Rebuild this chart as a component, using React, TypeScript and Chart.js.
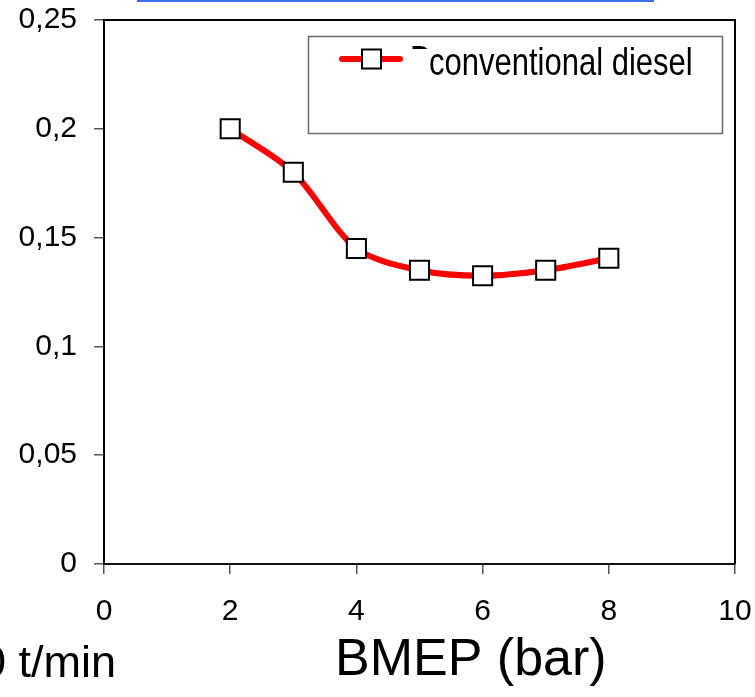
import React, { useEffect, useRef } from "react";
import { Chart, registerables } from "chart.js";

Chart.register(...registerables);

// ---- data ----
const bmep = [2, 3, 4, 5, 6, 7, 8];
const values = [0.2, 0.18, 0.145, 0.135, 0.1325, 0.135, 0.1405];
const seriesLabel = "conventional diesel";
const hiddenLabel = "Diesel";
const xTitle = "BMEP (bar)";
const speedLabel = "1500 t/min";
const yMin = 0;
const yMax = 0.25;
const yStep = 0.05;
const xMin = 0;
const xMax = 10;
const xStep = 2;

const FONT = '"Liberation Sans", Arial, Helvetica, sans-serif';

const decorPlugin = {
  id: "decor",
  afterDraw(chart: any) {
    const ctx = chart.ctx as CanvasRenderingContext2D;
    const { left, right, top, bottom } = chart.chartArea;
    ctx.save();
    // top & right frame
    ctx.strokeStyle = "#000";
    ctx.lineWidth = 2;
    ctx.beginPath();
    ctx.moveTo(left, top);
    ctx.lineTo(right, top);
    ctx.lineTo(right, bottom);
    ctx.stroke();

    // blue line at the very top
    ctx.fillStyle = "#3f6ef0";
    ctx.fillRect(137, 0, 517, 2);

    // legend box
    ctx.strokeStyle = "#6a6a6a";
    ctx.lineWidth = 1.5;
    ctx.strokeRect(308.5, 36.5, 414, 97);
    // legend line
    ctx.strokeStyle = "#ff0000";
    ctx.lineWidth = 6;
    ctx.lineCap = "round";
    ctx.beginPath();
    ctx.moveTo(342, 59);
    ctx.lineTo(400, 59);
    ctx.stroke();
    // legend marker
    ctx.fillStyle = "#fff";
    ctx.fillRect(362, 49.5, 19, 19);
    ctx.strokeStyle = "#000";
    ctx.lineWidth = 2;
    ctx.strokeRect(362, 49.5, 19, 19);

    // hidden underlying legend text fragment
    ctx.save();
    ctx.beginPath();
    ctx.rect(405, 43, 22, 6);
    ctx.clip();
    ctx.fillStyle = "#000";
    ctx.font = `31px ${FONT}`;
    ctx.textBaseline = "alphabetic";
    ctx.textAlign = "left";
    ctx.translate(410, 73);
    ctx.scale(1, 1.25);
    ctx.fillText(hiddenLabel, 0, 0);
    ctx.restore();

    // legend label (vertically stretched as in the source)
    ctx.save();
    ctx.fillStyle = "#000";
    ctx.font = `31px ${FONT}`;
    ctx.textBaseline = "alphabetic";
    ctx.textAlign = "left";
    ctx.translate(429, 75);
    ctx.scale(1, 1.25);
    ctx.fillText(seriesLabel, 0, 0);
    ctx.restore();

    // x title
    ctx.fillStyle = "#000";
    ctx.textBaseline = "alphabetic";
    ctx.font = `52px ${FONT}`;
    ctx.textAlign = "left";
    ctx.fillText(xTitle, 335, 675);

    // speed label (cut at the left edge)
    ctx.font = `45px ${FONT}`;
    ctx.textAlign = "right";
    ctx.fillText(speedLabel, 116, 677);
    ctx.restore();
  },
};

export default function App() {
  const ref = useRef<HTMLCanvasElement | null>(null);

  useEffect(() => {
    document.body.style.margin = "0";
    const canvas = ref.current;
    if (!canvas) return;
    const chart = new Chart(canvas, {
      type: "line",
      data: {
        datasets: [
          {
            label: seriesLabel,
            data: bmep.map((x, i) => ({ x, y: values[i] })),
            borderColor: "#ff0000",
            borderWidth: 6,
            tension: 0.3,
            pointStyle: "rect",
            pointRadius: 13.5,
            pointBackgroundColor: "#ffffff",
            pointBorderColor: "#000000",
            pointBorderWidth: 2,
            fill: false,
          },
        ],
      },
      options: {
        animation: false,
        responsive: false,
        devicePixelRatio: 1,
        layout: { padding: { top: 20, right: 20, left: 0, bottom: 0 } },
        plugins: {
          legend: { display: false },
          tooltip: { enabled: false },
          title: { display: false },
        },
        scales: {
          x: {
            type: "linear",
            min: xMin,
            max: xMax,
            afterFit: (s: any) => {
              s.height = 133;
              s.paddingLeft = 0;
              s.paddingRight = 0;
            },
            ticks: {
              stepSize: xStep,
              color: "#000",
              font: { size: 30, family: FONT },
              padding: 20,
              maxRotation: 0,
            },
            grid: {
              drawOnChartArea: false,
              drawTicks: true,
              tickLength: 10,
              color: "#555",
              lineWidth: 1.5,
            },
            border: { display: true, color: "#111", width: 2 },
          },
          y: {
            type: "linear",
            min: yMin,
            max: yMax,
            afterFit: (s: any) => {
              s.width = 104;
              s.paddingTop = 0;
              s.paddingBottom = 0;
            },
            ticks: {
              stepSize: yStep,
              color: "#000",
              font: { size: 30, family: FONT },
              padding: 17,
              callback: (v: any) => String(Number(Number(v).toFixed(3))).replace(".", ","),
            },
            grid: {
              drawOnChartArea: false,
              drawTicks: true,
              tickLength: 10,
              color: "#555",
              lineWidth: 1.5,
            },
            border: { display: true, color: "#000", width: 2 },
          },
        },
      },
      plugins: [decorPlugin],
    });
    return () => chart.destroy();
  }, []);

  return (
    <div style={{ position: "absolute", left: 0, top: 0, width: 755, height: 697, background: "#fff" }}>
      <canvas ref={ref} width={755} height={697} style={{ width: 755, height: 697, display: "block" }} />
    </div>
  );
}
